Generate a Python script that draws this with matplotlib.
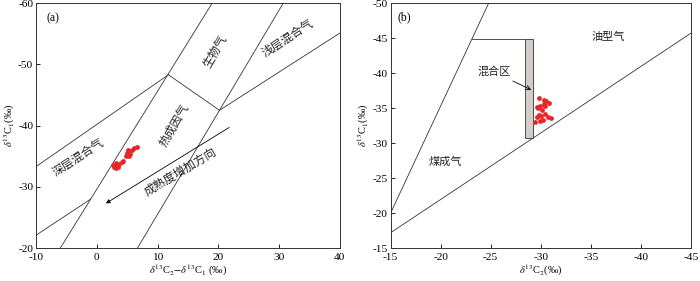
import matplotlib.pyplot as plt
from matplotlib.patches import Rectangle

plt.rcParams['font.family'] = ['Liberation Serif', 'Noto Sans CJK SC']
plt.rcParams['mathtext.fontset'] = 'stix'
plt.rcParams['axes.unicode_minus'] = False

# (a) boundary lines, each as x list, y list
a_lines = [
    ([-6.0, 19.0], [-20, -60]),
    ([6.7, 30.7], [-20, -60]),
    ([-10, 11.8], [-33.3, -48.3]),
    ([11.8, 20.2], [-48.3, -42.5]),
    ([20.2, 40], [-42.5, -55.1]),
    ([-10, -1.0], [-22.1, -28.0]),
]
a_arrow = [(21.8, -39.7), (1.5, -27.3)]
a_dx = [2.6, 2.9, 3.2, 3.4, 3.1, 3.7, 4.1, 4.3, 4.8, 5.0, 5.2, 4.9, 5.5, 5.3, 5.8, 6.2, 6.6, 5.1, 3.5]
a_dy = [-33.6, -33.2, -33.0, -33.5, -33.9, -33.8, -34.1, -34.3, -35.0, -35.5, -35.8, -35.2, -35.4, -35.0, -36.0, -36.3, -36.5, -36.0, -33.2]
a_labels = [
    ('生物气', 19.6, -52.0, 60),
    ('浅层混合气', 31.5, -54.2, 33),
    ('热成因气', 12.8, -40.0, 60),
    ('深层混合气', -3.0, -34.6, 33),
    ('成熟度增加方向', 13.8, -32.4, 31),
]

# (b)
b_lines = [
    ([-15, -24.8], [-20.0, -50]),
    ([-15, -45], [-17.2, -45.7]),
    ([-23.1, -28.45], [-44.8, -44.8]),
]
b_rect = (-28.45, -30.7, -29.2, -44.8)
b_dx = [-29.8, -30.3, -29.9, -29.6, -30.8, -30.4, -30.1, -29.8, -29.6, -30.0, -30.4, -30.7, -31.0, -29.4, -29.9, -30.2, -30.3, -30.5, -29.7]
b_dy = [-36.4, -36.2, -35.3, -35.2, -35.8, -35.3, -34.7, -34.0, -33.7, -33.9, -34.2, -33.7, -33.6, -32.95, -33.2, -33.3, -35.6, -36.0, -35.0]

lc = '#333333'
fig = plt.figure(figsize=(7, 2.81), dpi=100)
ax1 = fig.add_axes([0.0514, 0.117, 0.434, 0.872])
ax2 = fig.add_axes([0.558, 0.117, 0.429, 0.872])

for ax in (ax1, ax2):
    ax.tick_params(direction='in', length=3, labelsize=8.2, width=0.6, pad=2)
    ax.tick_params(axis='x', pad=3.5)
    for s in ax.spines.values():
        s.set_linewidth(0.7)
        s.set_color('#333333')

for xs, ys in a_lines:
    ax1.plot(xs, ys, color=lc, lw=0.6)
ax1.annotate('', xy=a_arrow[1], xytext=a_arrow[0],
             arrowprops=dict(arrowstyle='-|>', color='black', lw=0.6, mutation_scale=6, shrinkA=0, shrinkB=0))
ax1.scatter(a_dx, a_dy, s=12, color='#e8262a', zorder=3, linewidths=0)
for t, x, y, r in a_labels:
    ax1.text(x, y, t, rotation=r, ha='center', va='center', fontsize=8.5,
             rotation_mode='anchor', color='#222222')
ax1.text(-8.3, -57.5, '(a)', fontsize=8.5, ha='left', va='center')
ax1.set_xlim(-10, 40)
ax1.set_ylim(-20, -60)
ax1.set_xticks([-10, 0, 10, 20, 30, 40])
ax1.set_yticks([-20, -30, -40, -50, -60])
ax1.set_xlabel(r'$\delta^{13}$C$_2$$-\delta^{13}$C$_1$ (‰)', fontsize=7.5, labelpad=1)
ax1.set_ylabel(r'$\delta^{13}$C$_1$(‰)', fontsize=7.5, labelpad=1)

for xs, ys in b_lines:
    ax2.plot(xs, ys, color=lc, lw=0.6)
x0, y0, x1, y1 = b_rect
ax2.add_patch(Rectangle((x0, y0), x1 - x0, y1 - y0, facecolor='#d4ccc8',
                        edgecolor='#333333', lw=0.6, zorder=2))
ax2.scatter(b_dx, b_dy, s=12, color='#e8262a', zorder=3, linewidths=0)
ax2.annotate('混合区', xy=(-29.05, -37.6), xytext=(-25.3, -40.2), fontsize=8,
             ha='center', va='center', color='#222222',
             arrowprops=dict(arrowstyle='->', color='black', lw=0.6, shrinkA=2, shrinkB=0))
ax2.text(-36.7, -45.2, '油型气', fontsize=8, ha='center', va='center', color='#222222')
ax2.text(-20.5, -27.4, '煤成气', fontsize=8, ha='center', va='center', color='#222222')
ax2.text(-16.4, -47.9, '(b)', fontsize=8.5, ha='center', va='center')
ax2.set_xlim(-15, -45)
ax2.set_ylim(-15, -50)
ax2.set_xticks([-15, -20, -25, -30, -35, -40, -45])
ax2.set_yticks([-15, -20, -25, -30, -35, -40, -45, -50])
ax2.set_xlabel(r'$\delta^{13}$C$_2$(‰)', fontsize=7.5, labelpad=1)
ax2.set_ylabel(r'$\delta^{13}$C$_1$(‰)', fontsize=7.5, labelpad=1)

fig.savefig('out.png', dpi=100)
